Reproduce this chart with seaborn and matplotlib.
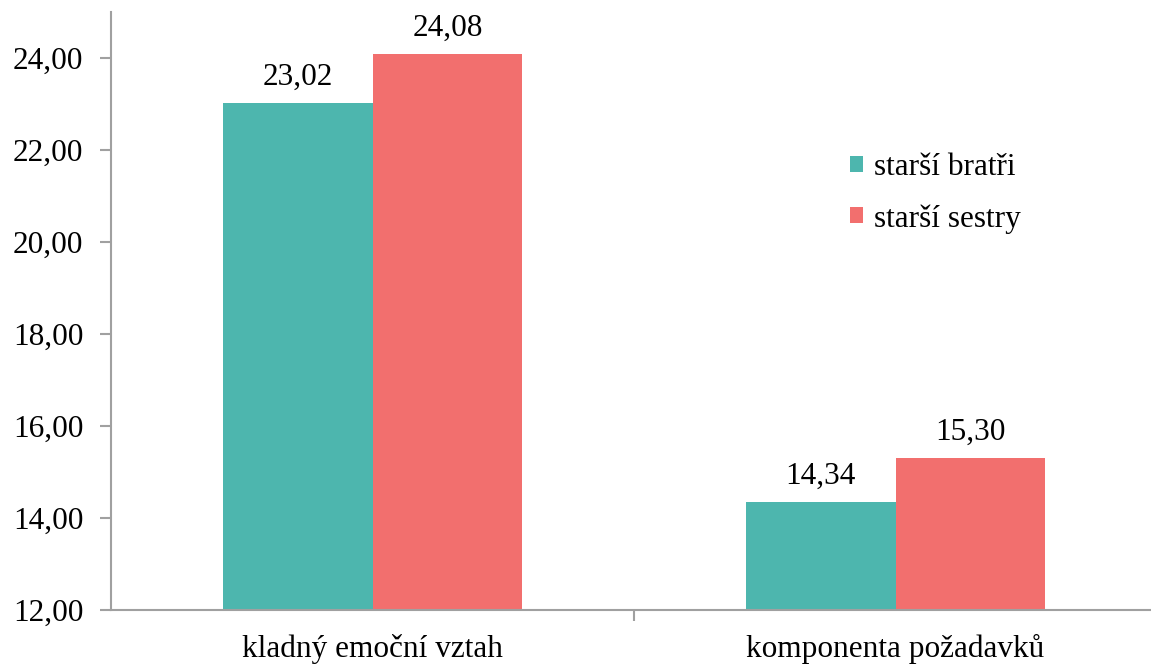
import matplotlib
matplotlib.use("Agg")
import matplotlib.pyplot as plt
import seaborn as sns
import pandas as pd

categories = ["kladný emoční vztah", "komponenta požadavků"]
series_names = ["starší bratři", "starší sestry"]
brothers = [23.02, 14.34]
sisters = [24.08, 15.30]
y_ticks = [12, 14, 16, 18, 20, 22, 24]

colors = ["#4DB6AE", "#F26F6E"]

df = pd.DataFrame({
    "cat": categories * 2,
    "series": [series_names[0]] * 2 + [series_names[1]] * 2,
    "val": brothers + sisters,
})

sns.set_theme(style="white")
plt.rcParams["font.serif"] = ["Liberation Serif", "Times New Roman", "DejaVu Serif"]
plt.rcParams["font.family"] = "serif"
plt.rcParams["text.color"] = "black"
plt.rcParams["xtick.labelcolor"] = "black"
plt.rcParams["ytick.labelcolor"] = "black"
fs = 22.5

fig = plt.figure(figsize=(11.51, 6.66), dpi=100)
ax = fig.add_axes([111/1151, 1 - 610/666, 1 - 111/1151, (610 - 12)/666])

sns.barplot(data=df, x="cat", y="val", hue="series", palette=colors,
            width=0.573, saturation=1, ax=ax, legend=True, edgecolor="none")

ax.set_ylim(12, 25)
ax.set_xlim(-0.5, 1.5 - 6/523)
ax.set_yticks(y_ticks)
ax.set_yticklabels([f"{v:.2f}".replace(".", ",") for v in y_ticks], fontsize=fs, color="black")
ax.set_xticks([0, 1])
ax.set_xticklabels(categories, fontsize=fs, color="black")
ax.tick_params(axis="x", length=0, pad=17)
ax.tick_params(axis="y", length=8, width=1.5, color="#A0A0A0", pad=12, left=True)
ax.set_xticks([0.5], minor=True)
ax.tick_params(axis="x", which="minor", length=8, width=1.5, color="#A0A0A0", bottom=True, direction="out")

for s in ["top", "right"]:
    ax.spines[s].set_visible(False)
for s in ["left", "bottom"]:
    ax.spines[s].set_color("#A0A0A0")
    ax.spines[s].set_linewidth(1.5)
ax.set_xlabel("")
ax.set_ylabel("")

for cont in ax.containers:
    ax.bar_label(cont, labels=[f"{v:.2f}".replace(".", ",") for v in cont.datavalues],
                 fontsize=fs, padding=8, color="black")

leg = ax.legend(loc="upper left", bbox_to_anchor=(711/1040, 1 - 113/598), frameon=False,
                fontsize=fs, handlelength=0.4, handleheight=0.4, handletextpad=0.35,
                labelspacing=0.7)
for t in leg.get_texts():
    t.set_color("black")

fig.savefig("out.png", dpi=100)
